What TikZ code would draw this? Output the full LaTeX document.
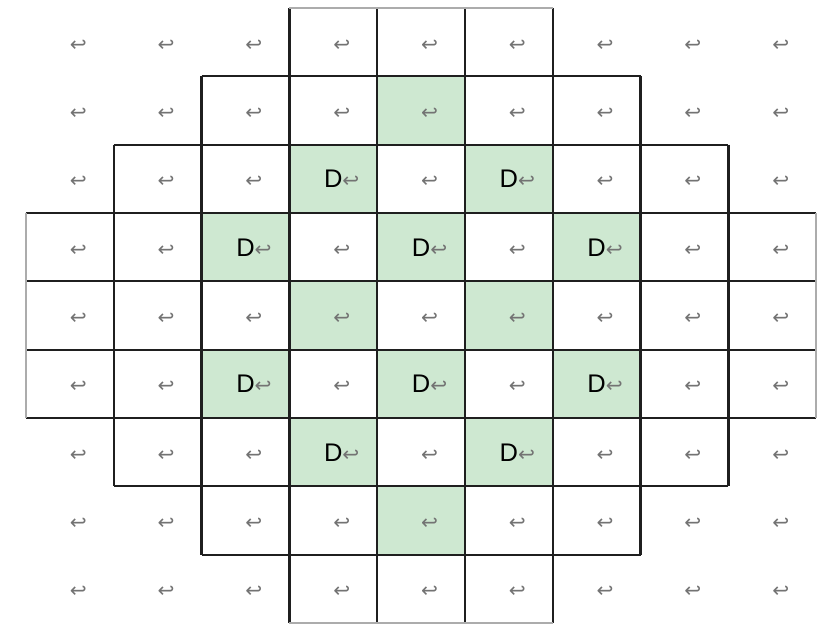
\documentclass[tikz,border=0pt]{standalone}
\usepackage{fontspec}
\setmainfont{Liberation Sans}
\newfontfamily\markfont{DejaVu Sans}
\definecolor{cellgreen}{RGB}{206,232,209}
\definecolor{markgray}{RGB}{115,115,115}
\newcommand\retmark{{\markfont\fontsize{11.5}{12}\selectfont\textcolor{markgray}{↩}}}

\begin{document}
\begin{tikzpicture}[x=1.756cm,y=-1.3667cm,
  cellline/.style={black!88,line width=1.3pt},
  edgeline/.style={gray!65,line width=1pt},
  cellmark/.style={inner sep=0pt,text height=0.36cm,text depth=0pt,font=\fontsize{14.5}{16}\selectfont}]
\useasboundingbox (-0.296,-0.117) rectangle (9.055,9.03);
% shaded cells
\foreach \c/\r in {4/1,3/2,5/2,2/3,4/3,6/3,3/4,5/4,2/5,4/5,6/5,3/6,5/6,4/7}
  \fill[cellgreen] (\c,\r) rectangle ++(1,1);
% cells that carry a D
\foreach \c/\r in {3/2,5/2,2/3,4/3,6/3,2/5,4/5,6/5,3/6,5/6}
  {\expandafter\gdef\csname isD\c-\r\endcsname{}}
% borders of the diamond
\foreach \i/\d in {1/2,2/1,3/0,4/0,5/0,6/0,7/1,8/2} {
  \draw[cellline] (\i,\d) -- (\i,9-\d);
  \draw[cellline] (\d,\i) -- (9-\d,\i);
}
\draw[edgeline] (3,0) -- (6,0) (3,9) -- (6,9) (0,3) -- (0,6) (9,3) -- (9,6);
% paragraph marks
\foreach \r in {0,...,8}
  \foreach \c in {0,...,8}
    \node[cellmark] (c\c-\r) at (\c+.5,\r+.5) {\ifcsname isD\c-\r\endcsname D\fi\rlap{\retmark}};
\end{tikzpicture}
\end{document}
